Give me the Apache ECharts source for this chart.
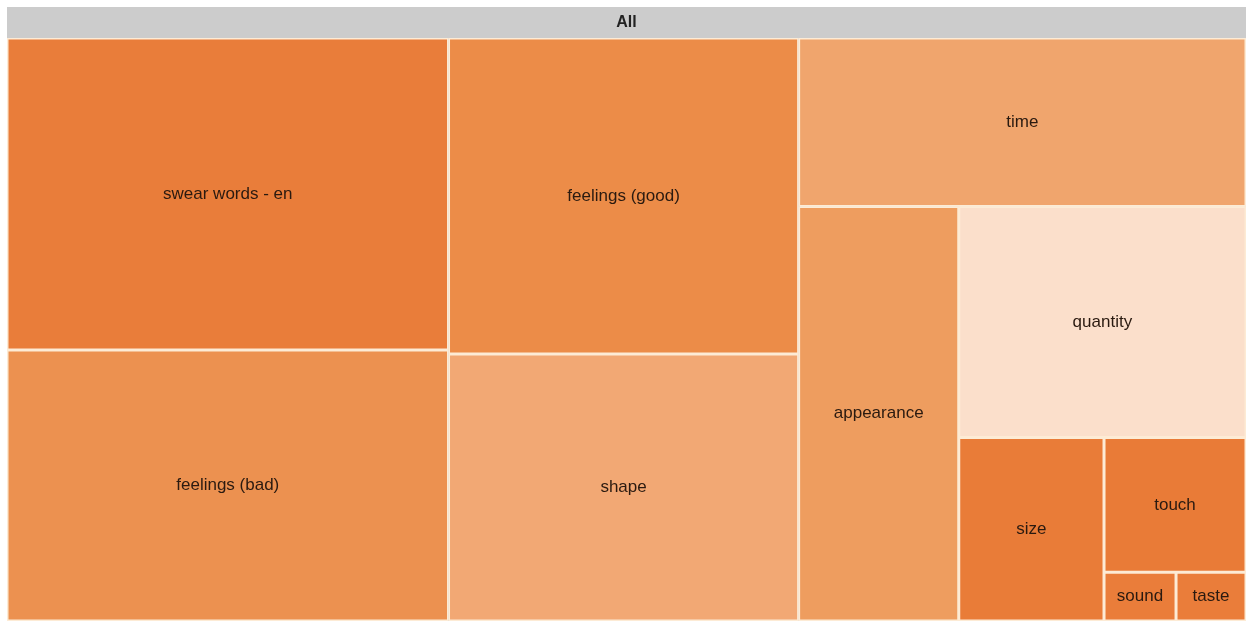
<!DOCTYPE html>
<html>
<head>
<meta charset="utf-8">
<script src="https://cdn.jsdelivr.net/npm/echarts@6/dist/echarts.min.js"></script>
<style>
html,body{margin:0;padding:0;background:#fff;}
#chart{width:1247px;height:621px;}
</style>
</head>
<body>
<div id="chart"></div>
<script>
const rootName = 'All';
const categories = ['swear words - en','feelings (bad)','feelings (good)','shape','time','appearance','quantity','size','touch','sound','taste'];
const values = [137, 119, 110, 93, 75, 66, 66, 26.5, 19, 3.5, 3.4];
const colors = ['#E97D3A','#EC9150','#EC8C48','#F2A874','#F0A56D','#EE9D5F','#FBDFCB','#E97C38','#E97B37','#EA7D3A','#EA7D3A'];

const FONT = '"Liberation Sans", Arial, sans-serif';
const leafLabel = {
  show: true, position: 'inside', align: 'center', verticalAlign: 'middle',
  color: '#2a1a10', fontSize: 17, fontFamily: FONT
};
function leaf(i) {
  return {
    name: categories[i],
    value: values[i],
    itemStyle: { color: colors[i], borderColor: '#FDEBD5', borderWidth: 1.5, gapWidth: 0 },
    label: leafLabel
  };
}
function group(kids) {
  return {
    name: '',
    children: kids,
    itemStyle: { borderColor: '#FDEBD5', borderWidth: 0, gapWidth: 0 },
    label: { show: false },
    upperLabel: { show: false }
  };
}
// nesting mirrors the reference's slice-and-dice of the small tiles
const g5 = group([leaf(9), leaf(10)]);
const g4 = group([leaf(8), g5]);
const g3 = group([leaf(7), g4]);
const g2 = group([leaf(6), g3]);
const g1 = group([leaf(5), g2]);
const topKids = [leaf(0), leaf(1), leaf(2), leaf(3), leaf(4), g1];

const chart = echarts.init(document.getElementById('chart'));
chart.setOption({
  animation: false,
  series: [{
    type: 'treemap',
    left: 7, top: 7, right: 1, bottom: 0,
    roam: false,
    nodeClick: false,
    sort: false,
    squareRatio: 1,
    breadcrumb: { show: false },
    label: leafLabel,
    data: [{
      name: rootName,
      children: topKids,
      itemStyle: { borderColor: '#CCCCCC', borderWidth: 0, gapWidth: 0 },
      upperLabel: {
        show: true, height: 31, color: '#222', fontWeight: 'bold',
        fontSize: 16, fontFamily: FONT, align: 'center', verticalAlign: 'middle',
        position: 'inside'
      }
    }]
  }]
});
</script>
</body>
</html>
